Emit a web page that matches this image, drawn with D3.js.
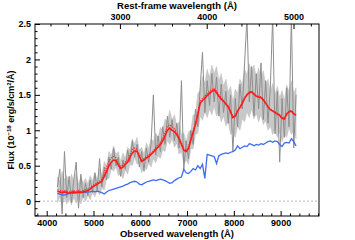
<!DOCTYPE html>
<html><head><meta charset="utf-8">
<script src="https://cdn.jsdelivr.net/npm/d3@7/dist/d3.min.js"></script>
<style>
body{margin:0;background:#fff;}
svg{display:block;}
text{font-family:"Liberation Sans",Arial,Helvetica,sans-serif;}
</style></head>
<body>
<svg id="c" width="355" height="240"></svg>
<script>
// Observed wavelength grid (Å)
const wave = [4230,4280,4330,4380,4430,4480,4530,4580,4630,4680,4730,4780,4830,4880,4930,4980,5030,5080,5130,5180,
5230,5280,5330,5380,5430,5480,5530,5580,5630,5680,5730,5780,5830,5880,5930,5980,6030,6080,6130,6180,
6230,6280,6330,6380,6430,6480,6530,6580,6630,6680,6730,6780,6830,6880,6930,6980,7030,7080,7130,7180,
7230,7280,7330,7380,7430,7480,7530,7580,7630,7680,7730,7780,7830,7880,7930,7980,8030,8080,8130,8180,
8230,8280,8330,8380,8430,8480,8530,8580,8630,8680,8730,8780,8830,8880,8930,8980,9030,9080,9130,9180,
9230,9280,9330];
// Observed spectrum (grey)
const fluxObs = [.20,.45,-.18,.70,.05,.35,-.02,.30,.55,-.10,.38,.05,.25,.08,.30,.12,.40,.15,.60,.20,
.48,.30,.62,.45,.75,.50,.62,.35,.58,.45,.72,.55,.85,.62,.80,.48,.70,.42,.75,.55,
.80,1.50,.65,.92,.70,1.05,.80,1.20,.90,1.15,.85,1.10,.75,1.70,.45,.85,.60,1.00,.80,1.30,
1.05,1.60,2.10,1.25,1.70,1.35,1.80,1.40,1.75,1.20,1.65,1.25,1.55,1.10,1.50,.70,1.45,1.05,1.65,1.30,
1.95,2.60,1.40,1.90,1.20,1.80,1.30,1.95,1.15,1.70,1.10,1.60,2.60,.95,1.55,.55,1.45,.90,1.60,1.05,
2.60,.75,1.50];
// Observed spectrum uncertainty band (light grey)
const obsHi = [.34,.28,.42,.30,.36,.22,.38,.28,.40,.24,.34,.26,.32,.24,.36,.28,.40,.30,.46,.36,
.56,.50,.70,.64,.78,.66,.70,.56,.68,.60,.76,.72,.88,.80,.90,.72,.76,.66,.82,.74,
.88,.84,.96,.90,1.04,1.00,1.16,1.12,1.28,1.14,1.22,1.06,1.12,.94,.96,.84,.98,1.00,1.22,1.22,
1.52,1.56,1.76,1.66,1.86,1.74,1.92,1.80,1.90,1.70,1.80,1.62,1.72,1.54,1.62,1.40,1.58,1.52,1.72,1.64,
1.86,1.78,1.94,1.82,1.92,1.74,1.88,1.72,1.84,1.64,1.72,1.54,1.66,1.50,1.62,1.46,1.56,1.42,1.64,1.54,
1.70,1.52,1.60];
const obsLo = [-.02,.06,-.06,.04,-.04,.03,-.05,.05,-.03,.05,-.04,.06,.00,.08,.02,.12,.06,.15,.09,.18,
.16,.32,.32,.46,.42,.49,.36,.38,.32,.44,.38,.52,.50,.62,.52,.54,.40,.50,.44,.54,
.48,.60,.54,.64,.60,.72,.70,.86,.80,.88,.76,.82,.66,.70,.52,.58,.52,.74,.74,.94,
.96,1.20,1.14,1.26,1.18,1.30,1.22,1.34,1.20,1.26,1.12,1.20,1.06,1.12,.94,.98,.90,1.06,1.00,1.16,
1.12,1.26,1.18,1.30,1.16,1.24,1.12,1.22,1.08,1.14,1.00,1.06,.94,1.02,.90,.98,.84,.94,.90,1.04,
.94,1.00,.88];
// Total model (red solid)
const fluxModel = [.14,.13,.12,.13,.12,.11,.12,.13,.12,.13,.12,.13,.14,.15,.17,.20,.22,.24,.26,.28,
.35,.42,.50,.55,.58,.57,.51,.46,.48,.52,.55,.62,.68,.71,.70,.63,.56,.58,.61,.63,
.66,.69,.73,.76,.80,.85,.92,1.00,1.03,1.00,.98,.94,.88,.80,.72,.70,.74,.86,.97,1.08,
1.22,1.38,1.42,1.45,1.49,1.52,1.55,1.57,1.53,1.48,1.44,1.41,1.37,1.33,1.26,1.18,1.20,1.27,1.32,1.38,
1.45,1.50,1.53,1.54,1.51,1.48,1.47,1.46,1.43,1.38,1.33,1.29,1.27,1.25,1.23,1.21,1.17,1.16,1.23,1.26,
1.27,1.23,1.21];
// Alternative model (red dotted)
const fluxModelAlt = [.16,.15,.14,.15,.14,.13,.14,.15,.14,.15,.14,.15,.16,.17,.19,.22,.24,.26,.28,.31,
.40,.48,.56,.61,.63,.61,.54,.49,.51,.55,.59,.66,.73,.75,.73,.66,.58,.60,.63,.65,
.68,.71,.75,.79,.83,.89,.97,1.05,1.08,1.05,1.02,.97,.90,.82,.74,.72,.76,.88,.99,1.10,
1.25,1.41,1.45,1.48,1.52,1.55,1.58,1.59,1.55,1.50,1.46,1.42,1.38,1.34,1.27,1.19,1.21,1.28,1.33,1.39,
1.46,1.51,1.54,1.55,1.52,1.49,1.48,1.47,1.44,1.39,1.34,1.30,1.28,1.26,1.24,1.22,1.18,1.17,1.24,1.27,
1.28,1.24,1.22];
// Component (blue)
const fluxComp = [.11,.10,.09,.085,.10,.11,.12,.11,.12,.12,.13,.13,.12,.13,.13,.14,.13,.14,.13,.12,
.10,.13,.15,.16,.17,.18,.19,.20,.21,.23,.24,.26,.27,.28,.27,.24,.23,.25,.27,.28,
.29,.30,.29,.30,.31,.30,.29,.27,.25,.26,.29,.31,.33,.34,.45,.40,.39,.42,.46,.44,
.50,.46,.52,.32,.66,.65,.64,.63,.53,.64,.66,.67,.68,.67,.69,.70,.72,.78,.74,.76,
.78,.77,.81,.80,.78,.80,.79,.81,.80,.82,.84,.85,.83,.85,.84,.80,.77,.82,.83,.82,
.88,.84,.78];
const bottomMajor = [4000,5000,6000,7000,8000,9000];
const topMajor = [3000,4000,5000];
const yMajor = [0,0.5,1,1.5,2,2.5];
const onePlusZ = 1.855;

const svg = d3.select("#c");
const L=35,R=319,T=24,B=216;
const x = d3.scaleLinear().domain([3750,9820]).range([L,R]);
const xr = d3.scaleLinear().domain([3750/onePlusZ,9820/onePlusZ]).range([L,R]);
const y = d3.scaleLinear().domain([-0.21,2.5]).range([B,T]);

svg.append("clipPath").attr("id","cp").append("rect")
  .attr("x",L).attr("y",T).attr("width",R-L).attr("height",B-T);
const g = svg.append("g").attr("clip-path","url(#cp)");

// zero line
g.append("line").attr("x1",L).attr("x2",R).attr("y1",y(0)).attr("y2",y(0))
  .attr("stroke","#999").attr("stroke-width",0.7).attr("stroke-dasharray","2,2");

const line = arr => d3.line().x((d,i)=>x(wave[i])).y(d=>y(d))(arr);
const band = d3.area().x((d,i)=>x(wave[i])).y0((d,i)=>y(obsLo[i])).y1(d=>y(d));
g.append("path").attr("d",band(obsHi)).attr("fill","#c8c8c8").attr("stroke","#bdbdbd").attr("stroke-width",0.5);
g.append("path").attr("d",line(fluxObs)).attr("fill","none").attr("stroke","#8e8e8e").attr("stroke-width",1);
g.append("path").attr("d",line(fluxComp)).attr("fill","none").attr("stroke","#3d6cf0").attr("stroke-width",1.3);
g.append("path").attr("d",line(fluxModelAlt)).attr("fill","none").attr("stroke","#ff2a2a").attr("stroke-width",1.2).attr("stroke-dasharray","1.2,1.2");
g.append("path").attr("d",line(fluxModel)).attr("fill","none").attr("stroke","#ff1a1a").attr("stroke-width",1.6);

// frame
svg.append("rect").attr("x",L).attr("y",T).attr("width",R-L).attr("height",B-T)
  .attr("fill","none").attr("stroke","#000").attr("stroke-width",1);

const tickStyle = s => s.call(a=>a.select(".domain").remove())
  .call(a=>a.selectAll("line").attr("stroke","#000"))
  .call(a=>a.selectAll("text").attr("font-size",9).attr("font-weight","bold").attr("fill","#000"));

// bottom axis
const bMinor = d3.range(3800,9801,200).filter(v=>v%1000!==0);
svg.append("g").attr("transform",`translate(0,${B})`)
  .call(d3.axisBottom(x).tickValues(bMinor).tickSize(-2.5).tickFormat(""))
  .call(tickStyle);
svg.append("g").attr("transform",`translate(0,${B})`)
  .call(d3.axisBottom(x).tickValues(bottomMajor).tickSizeInner(-5).tickSizeOuter(0).tickPadding(4).tickFormat(d3.format("d")))
  .call(tickStyle);
// top axis
const tMinor = d3.range(2200,5301,200).filter(v=>v%1000!==0 && xr(v)>=L && xr(v)<=R);
svg.append("g").attr("transform",`translate(0,${T})`)
  .call(d3.axisTop(xr).tickValues(tMinor).tickSize(-2.5).tickFormat(""))
  .call(tickStyle);
svg.append("g").attr("transform",`translate(0,${T})`)
  .call(d3.axisTop(xr).tickValues(topMajor).tickSizeInner(-5).tickSizeOuter(0).tickPadding(4).tickFormat(d3.format("d")))
  .call(tickStyle);
// left axis
const yMinor = d3.range(-2,26).map(v=>v/10).filter(v=>Math.round(v*10)%5!==0);
svg.append("g").attr("transform",`translate(${L},0)`)
  .call(d3.axisLeft(y).tickValues(yMinor).tickSize(-2.5).tickFormat(""))
  .call(tickStyle);
svg.append("g").attr("transform",`translate(${L},0)`)
  .call(d3.axisLeft(y).tickValues(yMajor).tickSizeInner(-5).tickSizeOuter(0).tickPadding(4).tickFormat(d=>d===0?"0":String(d)))
  .call(tickStyle);

// axis titles
svg.append("text").attr("x",(L+R)/2).attr("y",237).attr("text-anchor","middle")
  .attr("font-size",9.5).attr("font-weight","bold").text("Observed wavelength (Å)");
svg.append("text").attr("x",(L+R)/2).attr("y",9).attr("text-anchor","middle")
  .attr("font-size",9.5).attr("font-weight","bold").text("Rest-frame wavelength (Å)");
const yl = svg.append("text").attr("transform","translate(14,120) rotate(-90)").attr("text-anchor","middle")
  .attr("font-size",9).attr("font-weight","bold");
yl.append("tspan").text("Flux (10");
yl.append("tspan").attr("dy",-3.5).attr("font-size",6).text("−18");
yl.append("tspan").attr("dy",3.5).text(" erg/s/cm");
yl.append("tspan").attr("dy",-3.5).attr("font-size",6).text("2");
yl.append("tspan").attr("dy",3.5).text("/Å)");
</script>
</body></html>
